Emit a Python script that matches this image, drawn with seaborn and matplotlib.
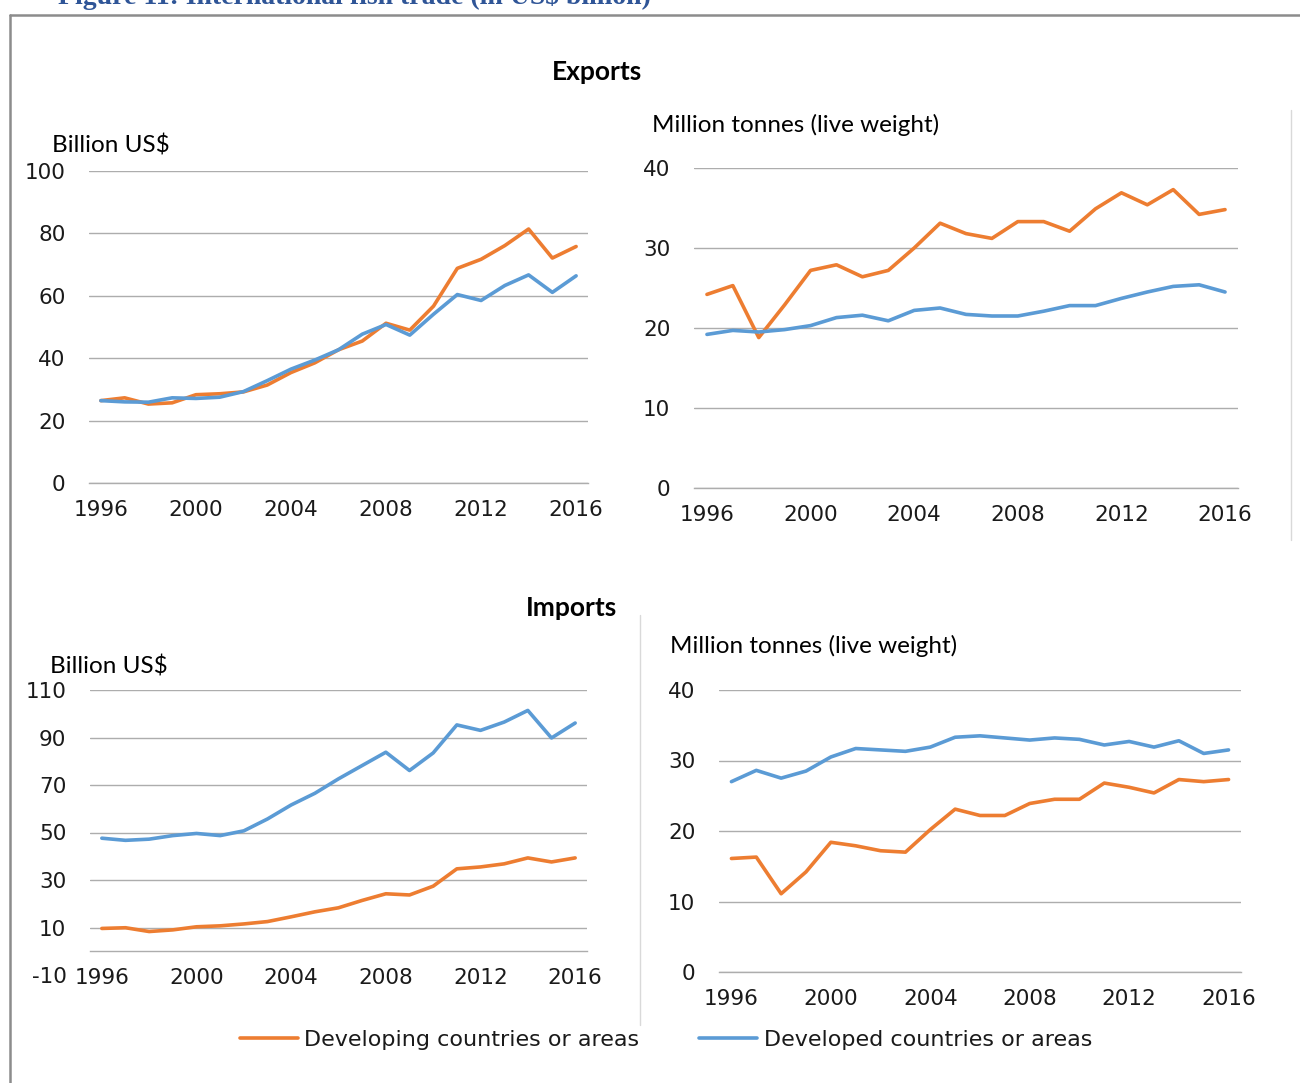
import numpy as np
import pandas as pd
import seaborn as sns
import matplotlib.pyplot as plt
from matplotlib.lines import Line2D

years = list(range(1996, 2017))
groups = ['Developing countries or areas', 'Developed countries or areas']

# Exports, value (billion US$)
exp_val_developing = [26.4, 27.3, 25.3, 25.7, 28.3, 28.6, 29.2, 31.4, 35.4, 38.5, 42.7,
                      45.5, 51.2, 49.0, 56.7, 68.8, 71.7, 76.1, 81.4, 72.1, 75.8]
exp_val_developed = [26.4, 26.0, 25.9, 27.3, 27.1, 27.5, 29.3, 32.8, 36.5, 39.4, 42.7,
                     47.7, 50.8, 47.4, 54.1, 60.4, 58.5, 63.3, 66.7, 61.1, 66.4]

# Exports, quantity (million tonnes live weight)
exp_qty_developing = [24.2, 25.3, 18.8, 22.9, 27.2, 27.9, 26.4, 27.2, 30.0, 33.1, 31.8,
                      31.2, 33.3, 33.3, 32.1, 34.9, 36.9, 35.4, 37.3, 34.2, 34.8]
exp_qty_developed = [19.2, 19.7, 19.5, 19.8, 20.3, 21.3, 21.6, 20.9, 22.2, 22.5, 21.7,
                     21.5, 21.5, 22.1, 22.8, 22.8, 23.7, 24.5, 25.2, 25.4, 24.5]

# Imports, value (billion US$)
imp_val_developing = [9.6, 9.9, 8.3, 9.0, 10.3, 10.7, 11.5, 12.5, 14.5, 16.6, 18.3,
                      21.4, 24.2, 23.7, 27.4, 34.7, 35.5, 36.8, 39.3, 37.6, 39.3]
imp_val_developed = [47.6, 46.7, 47.2, 48.7, 49.6, 48.7, 50.7, 55.7, 61.6, 66.5, 72.6,
                     78.2, 83.8, 76.1, 83.5, 95.3, 93.0, 96.5, 101.4, 89.8, 96.1]

# Imports, quantity (million tonnes live weight)
imp_qty_developing = [16.1, 16.3, 11.1, 14.2, 18.4, 17.9, 17.2, 17.0, 20.2, 23.1, 22.2,
                      22.2, 23.9, 24.5, 24.5, 26.8, 26.2, 25.4, 27.3, 27.0, 27.3]
imp_qty_developed = [27.0, 28.6, 27.5, 28.5, 30.5, 31.7, 31.5, 31.3, 31.9, 33.3, 33.5,
                     33.2, 32.9, 33.2, 33.0, 32.2, 32.7, 31.9, 32.8, 31.0, 31.5]

ORANGE = '#ED7D31'
BLUE = '#5B9BD5'
GRID = '#ADADAD'
TXT = '#1a1a1a'
LABEL_FONT = ['Lato', 'DejaVu Sans']

sns.set_style('white')
plt.rcParams['font.family'] = ['DejaVu Sans']
plt.rcParams['axes.unicode_minus'] = False


def long_df(developing, developed):
    return pd.DataFrame({
        'Year': years * 2,
        'Value': developing + developed,
        'Group': [groups[0]] * len(years) + [groups[1]] * len(years),
    })


def draw_panel(ax, developing, developed, yticks, ylim, zero_axis=False, legend=False):
    df = long_df(developing, developed)
    sns.lineplot(data=df, x='Year', y='Value', hue='Group', hue_order=groups,
                 palette=[ORANGE, BLUE], linewidth=2.6, ax=ax, legend=legend)
    ax.set_xlim(years[0] - 0.5, years[-1] + 0.5)
    ax.set_ylim(*ylim)
    ax.set_yticks(yticks)
    ax.set_xticks(np.arange(years[0] - 0.5, years[-1] + 1, 1))
    ax.set_xticklabels([])
    ax.set_xticks(years[::4], minor=True)
    ax.set_xticklabels([str(y) for y in years[::4]], minor=True)
    ax.tick_params(axis='x', which='major', length=6, width=1, color=GRID, direction='out')
    ax.tick_params(axis='x', which='minor', length=0, pad=12, labelsize=15.5, labelcolor=TXT)
    ax.tick_params(axis='y', length=0, pad=17, labelsize=15.5, labelcolor=TXT)
    ax.grid(axis='y', color=GRID, linewidth=1)
    ax.grid(axis='x', visible=False)
    for s in ['left', 'right', 'top']:
        ax.spines[s].set_visible(False)
    ax.spines['bottom'].set_color(GRID)
    ax.spines['bottom'].set_linewidth(1)
    if zero_axis:
        ax.spines['bottom'].set_position(('data', 0))
        ax.yaxis.get_gridlines()[0].set_visible(False)
    ax.set_xlabel('')
    ax.set_ylabel('')
    ax.patch.set_alpha(0)


W, H = 1300, 1083
fig = plt.figure(figsize=(W / 100, H / 100), dpi=100)


def px_axes(x0, x1, ytop, ybot):
    return fig.add_axes([x0 / W, 1 - ybot / H, (x1 - x0) / W, (ybot - ytop) / H])


ax_tl = px_axes(89, 588, 171, 483)
ax_tr = px_axes(694, 1238, 168, 488)
ax_bl = px_axes(90, 587, 690, 975)
ax_br = px_axes(719, 1241, 690, 972)

draw_panel(ax_tl, exp_val_developing, exp_val_developed, range(0, 101, 20), (0, 100), legend=True)
draw_panel(ax_tr, exp_qty_developing, exp_qty_developed, range(0, 41, 10), (0, 40))
draw_panel(ax_bl, imp_val_developing, imp_val_developed, range(-10, 111, 20), (-10, 110), zero_axis=True)
draw_panel(ax_br, imp_qty_developing, imp_qty_developed, range(0, 41, 10), (0, 40))

handles, labels = ax_tl.get_legend_handles_labels()
ax_tl.get_legend().remove()
fig.legend(handles, labels, loc='center', bbox_to_anchor=(666 / W, 1 - 1040 / H), ncol=2,
           frameon=False, fontsize=16, handlelength=2.6, handletextpad=0.3,
           columnspacing=2.7, labelcolor=TXT)

# headings and unit labels
fig.text(597 / W, 1 - 72 / H, 'Exports', ha='center', va='center', fontsize=19,
         fontweight='bold', family=LABEL_FONT, color='black')
fig.text(572 / W, 1 - 608 / H, 'Imports', ha='center', va='center', fontsize=19,
         fontweight='bold', family=LABEL_FONT, color='black')
fig.text(52 / W, 1 - 145 / H, 'Billion US$', ha='left', va='center', fontsize=17.5,
         family=LABEL_FONT, color='black')
fig.text(652 / W, 1 - 125 / H, 'Million tonnes (live weight)', ha='left', va='center',
         fontsize=17.5, family=LABEL_FONT, color='black')
fig.text(50 / W, 1 - 667 / H, 'Billion US$', ha='left', va='center', fontsize=17.5,
         family=LABEL_FONT, color='black')
fig.text(670 / W, 1 - 646 / H, 'Million tonnes (live weight)', ha='left', va='center',
         fontsize=17.5, family=LABEL_FONT, color='black')

# caption, only its lower part shows at the top of the picture
fig.text(58 / W, 1 - 4 / H, 'Figure 11: International fish trade (in US$ billion)',
         ha='left', va='baseline', fontsize=20, fontweight='bold',
         family=['Liberation Serif', 'DejaVu Serif'], color='#2F5597')

# outer frame and chart borders
frame = dict(transform=fig.transFigure, color='#8C8C8C', linewidth=1.8)
fig.add_artist(Line2D([10 / W, 10 / W], [0, 1 - 15 / H], **frame))
fig.add_artist(Line2D([10 / W, 1], [1 - 15 / H, 1 - 15 / H], **frame))
border = dict(transform=fig.transFigure, color='#D9D9D9', linewidth=1)
fig.add_artist(Line2D([1291 / W, 1291 / W], [1 - 110 / H, 1 - 540 / H], **border))
fig.add_artist(Line2D([640 / W, 640 / W], [1 - 615 / H, 1 - 1025 / H], **border))

fig.savefig('out.png', dpi=100)
